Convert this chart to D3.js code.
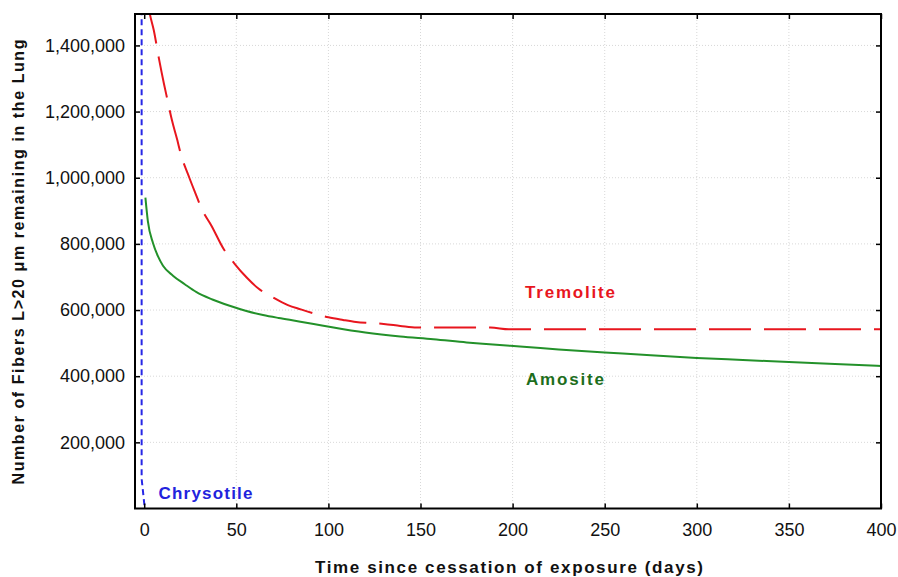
<!DOCTYPE html>
<html>
<head>
<meta charset="utf-8">
<script src="https://cdn.jsdelivr.net/npm/d3@7"></script>
<style>
  body { margin: 0; background: #fff; }
  svg text { font-family: "Liberation Sans", Arial, sans-serif; }
</style>
</head>
<body>
<svg id="chart" width="898" height="577"></svg>
<script>
// data (days, fibers remaining)
var tremoliteDays = [2, 3, 5.2, 8, 10.8, 12.4, 15, 18, 19.8, 24.5, 28.3, 31, 36.5, 43.3, 49.2, 55.5, 62, 70, 78, 85, 92, 100, 108, 115, 121, 130, 139, 148, 170, 188, 198, 250, 300, 350, 400]
var tremoliteVals = [1530000, 1497000, 1446000, 1360000, 1282000, 1241000, 1175000, 1113000, 1073000, 1000000, 946000, 908000, 855000, 783000, 739000, 699000, 665000, 638000, 615000, 602000, 590000, 578000, 570000, 564000, 561000, 558000, 552000, 547000, 547000, 547000, 542000, 542000, 542000, 542000, 542000]

var amositeDays = [0.65, 2, 4.8, 7.5, 10.2, 15.6, 22, 28.4, 37, 46.4, 55, 64.5, 73, 82.6, 92, 102, 120, 139, 157, 175, 193, 204, 225, 250, 275, 300, 325, 350, 375, 400]
var amositeVals = [940000, 868000, 802000, 762000, 734000, 704000, 678000, 654000, 632000, 613000, 598000, 585000, 576000, 567000, 558000, 548000, 532000, 520000, 512000, 502000, 494000, 490000, 481000, 472000, 463000, 455000, 449000, 443000, 437000, 431000]

var chrysotileDays = [-1.4, -1.4, -1.4, 0.3]
var chrysotileVals = [1600000, 600000, 90000, 0]

var xTicks = [0, 50, 100, 150, 200, 250, 300, 350, 400]
var yTicks = [200000, 400000, 600000, 800000, 1000000, 1200000, 1400000]

var plot = {left: 135, top: 14, right: 881, bottom: 508.5}

var svg = d3.select('#chart')

var x = d3.scaleLinear().domain([-5, 400]).range([plot.left, plot.right])
var y = d3.scaleLinear().domain([0, 1495000]).range([plot.bottom, plot.top])

svg.append('defs').append('clipPath')
   .attr('id', 'plot-clip')
   .append('rect')
   .attr('x', plot.left).attr('y', plot.top)
   .attr('width', plot.right - plot.left)
   .attr('height', plot.bottom - plot.top)

// grid
var grid = svg.append('g').attr('class', 'grid')
grid.selectAll('.vgrid')
   .data(xTicks.slice(1, -1))
   .enter().append('line')
   .attr('x1', function(d){ return x(d) }).attr('x2', function(d){ return x(d) })
   .attr('y1', plot.top).attr('y2', plot.bottom)
   .style('stroke', '#d8d8d8').style('stroke-dasharray', '1,2')
grid.selectAll('.hgrid')
   .data(yTicks)
   .enter().append('line')
   .attr('y1', function(d){ return y(d) }).attr('y2', function(d){ return y(d) })
   .attr('x1', plot.left).attr('x2', plot.right)
   .style('stroke', '#d8d8d8').style('stroke-dasharray', '1,2')

// series
function zipSeries(days, vals){
   return days.map(function(d, i){ return [d, vals[i]] })
}
var line = d3.line()
   .x(function(d){ return x(d[0]) })
   .y(function(d){ return y(d[1]) })
   .curve(d3.curveMonotoneX)

var lines = svg.append('g').attr('clip-path', 'url(#plot-clip)')

lines.append('path')
   .datum(zipSeries(amositeDays, amositeVals))
   .attr('d', line)
   .style('fill', 'none').style('stroke', '#23912a').style('stroke-width', 2)

lines.append('path')
   .datum(zipSeries(tremoliteDays, tremoliteVals))
   .attr('d', line)
   .style('fill', 'none').style('stroke', '#e8161e').style('stroke-width', 2)
   .style('stroke-dasharray', '42,13')

lines.append('path')
   .datum(zipSeries(chrysotileDays, chrysotileVals))
   .attr('d', d3.line().x(function(d){ return x(d[0]) }).y(function(d){ return y(d[1]) }))
   .style('fill', 'none').style('stroke', '#2626e6').style('stroke-width', 2)
   .style('stroke-dasharray', '6,4')

// axes, ticks pointing inward
var xAxis = d3.axisBottom(x).tickValues(xTicks).tickSizeInner(-5).tickSizeOuter(0).tickPadding(15)
var yAxis = d3.axisLeft(y).tickValues(yTicks).tickSizeInner(-5).tickSizeOuter(0).tickPadding(10)
   .tickFormat(d3.format(','))

var gx = svg.append('g').attr('transform', 'translate(0,' + plot.bottom + ')').call(xAxis)
var gy = svg.append('g').attr('transform', 'translate(' + plot.left + ',0)').call(yAxis)
var gt = svg.append('g').attr('transform', 'translate(0,' + plot.top + ')')
   .call(d3.axisTop(x).tickValues(xTicks).tickSizeInner(-5).tickSizeOuter(0).tickFormat(''))
var gr = svg.append('g').attr('transform', 'translate(' + plot.right + ',0)')
   .call(d3.axisRight(y).tickValues(yTicks).tickSizeInner(-5).tickSizeOuter(0).tickFormat(''))

;[gx, gy, gt, gr].forEach(function(g){
   g.select('.domain').remove()
   g.selectAll('.tick line').style('stroke', '#000').style('stroke-width', 1.5)
   g.selectAll('text').style('font-size', '18px').style('fill', '#111')
      .style('font-family', '"Liberation Sans", Arial, sans-serif')
})

svg.append('rect')
   .attr('x', plot.left).attr('y', plot.top)
   .attr('width', plot.right - plot.left)
   .attr('height', plot.bottom - plot.top)
   .style('fill', 'none').style('stroke', '#000').style('stroke-width', 2)

// series labels
var labels = [
   {text: 'Tremolite', x: 525, y: 297.5, len: 90, color: '#e8161e'},
   {text: 'Amosite', x: 526, y: 385, len: 78, color: '#1d6e1d'},
   {text: 'Chrysotile', x: 158.5, y: 498.5, len: 94, color: '#2222dd'}
]
svg.selectAll('.series-label')
   .data(labels)
   .enter().append('text')
   .attr('class', 'series-label')
   .attr('x', function(d){ return d.x })
   .attr('y', function(d){ return d.y })
   .attr('textLength', function(d){ return d.len })
   .attr('lengthAdjust', 'spacing')
   .style('font-size', '17px').style('font-weight', 'bold')
   .style('fill', function(d){ return d.color })
   .text(function(d){ return d.text })

// axis titles
svg.append('text')
   .attr('x', 509).attr('y', 573)
   .attr('text-anchor', 'middle')
   .attr('textLength', 388).attr('lengthAdjust', 'spacing')
   .style('font-size', '17px').style('font-weight', 'bold').style('fill', '#111')
   .text('Time since cessation of exposure (days)')

svg.append('text')
   .attr('transform', 'translate(24,262) rotate(-90)')
   .attr('text-anchor', 'middle')
   .attr('textLength', 445).attr('lengthAdjust', 'spacing')
   .style('font-size', '16px').style('font-weight', 'bold').style('fill', '#111')
   .text('Number of Fibers L>20 μm remaining in the Lung')
</script>
</body>
</html>
